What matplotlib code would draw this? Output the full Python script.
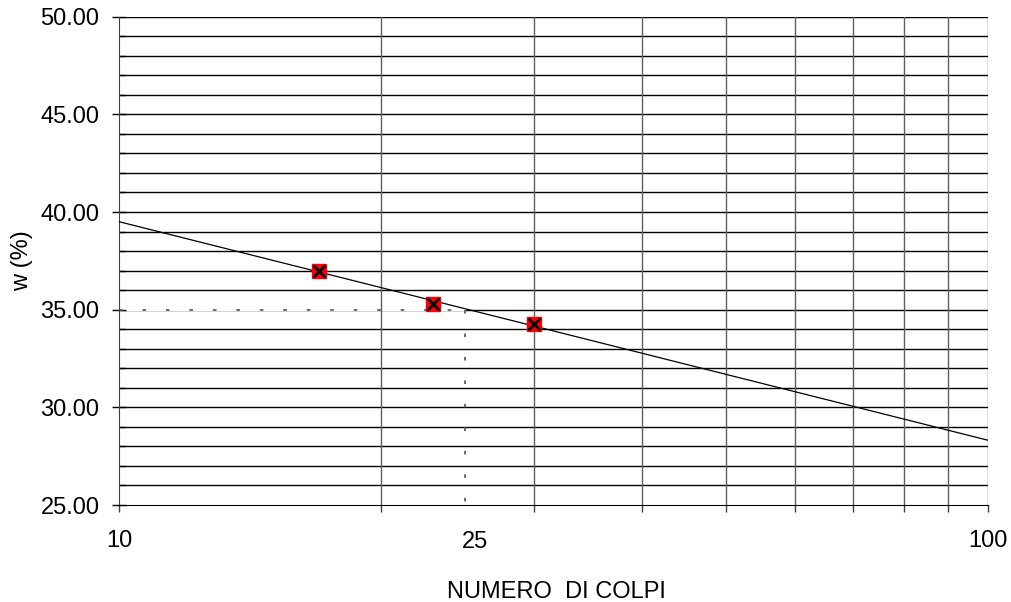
import numpy as np
import matplotlib.pyplot as plt
from matplotlib.ticker import FixedLocator, MultipleLocator, NullFormatter

plt.rcParams['font.family'] = ['Liberation Sans', 'DejaVu Sans']

# Measured points: number of blows vs water content
colpi = np.array([17, 23, 30])
w_perc = np.array([37.0, 35.3, 34.25])

x_ticks = [10, 20, 30, 40, 50, 60, 70, 80, 90, 100]
x_labels = ['10', '', '', '', '', '', '', '', '', '100']
w_25 = 35.0  # liquid limit read at 25 blows
n_ref = 25

# linear fit w = a + b*log10(N)
b, a = np.polyfit(np.log10(colpi), w_perc, 1)
n_line = np.array([10, 100])
w_line = a + b * np.log10(n_line)

fs = 17

fig = plt.figure(figsize=(10.12, 6.02), dpi=100)
ax = fig.add_axes([0.1176, 0.1611, 0.8587, 0.8112])
ax.set_xscale('log')
ax.set_xlim(10, 100)
ax.set_ylim(25, 50)

# grid
ax.xaxis.set_major_locator(FixedLocator(x_ticks))
ax.xaxis.set_minor_locator(FixedLocator([]))
ax.set_xticklabels(x_labels)
ax.xaxis.set_minor_formatter(NullFormatter())
ax.yaxis.set_major_locator(MultipleLocator(5))
ax.yaxis.set_minor_locator(MultipleLocator(1))
ax.yaxis.set_major_formatter(plt.FuncFormatter(lambda v, p: '%.2f' % v))

for y in np.arange(26, 51, 1):
    ax.axhline(y, color='black', lw=1.0, zorder=0.9)
for x in x_ticks[1:]:
    ax.axvline(x, color='#606060', lw=1.0, zorder=1.1)

ax.tick_params(axis='y', which='major', direction='inout', length=10, width=1, labelsize=fs, pad=9)
ax.tick_params(axis='y', which='minor', direction='in', length=4.5, width=1)
ax.tick_params(axis='x', which='major', direction='out', length=5, width=1, labelsize=fs, pad=13, color='#404040')

for s in ['top', 'right']:
    ax.spines[s].set_visible(False)
ax.spines['left'].set_color('#404040')
ax.spines['bottom'].set_color('black')

# fit line
ax.plot(n_line, w_line, color='black', lw=0.9, zorder=3)

# dotted construction lines at 25 blows (the horizontal one hides the gridline)
ax.plot([10, n_ref], [w_25, w_25], color='white', lw=1.6, zorder=1.0)
ax.plot([10, n_ref], [w_25, w_25], color='#606060', lw=1.3, linestyle=(0, (2, 11)), zorder=2)
ax.plot([n_ref, n_ref], [w_25, 25], color='#606060', lw=1.3, linestyle=(0, (2, 11)), zorder=2)

# markers
ax.plot(colpi, w_perc, linestyle='none', marker='s', markersize=9.5, color='red', zorder=4)
ax.plot(colpi, w_perc, linestyle='none', marker='x', markersize=8.5, mew=2, color='black', zorder=5)

ax.annotate('25', xy=(n_ref, 0), xycoords=('data', 'axes fraction'),
            xytext=(10, -26), textcoords='offset pixels', ha='center', va='top', fontsize=fs)

ax.set_xlabel('NUMERO  DI COLPI', fontsize=fs)
ax.xaxis.set_label_coords(0.503, -0.155)
ax.set_ylabel('w (%)', fontsize=fs)
ax.yaxis.set_label_coords(-0.099, 0.5)

fig.savefig('out.png', dpi=100)
